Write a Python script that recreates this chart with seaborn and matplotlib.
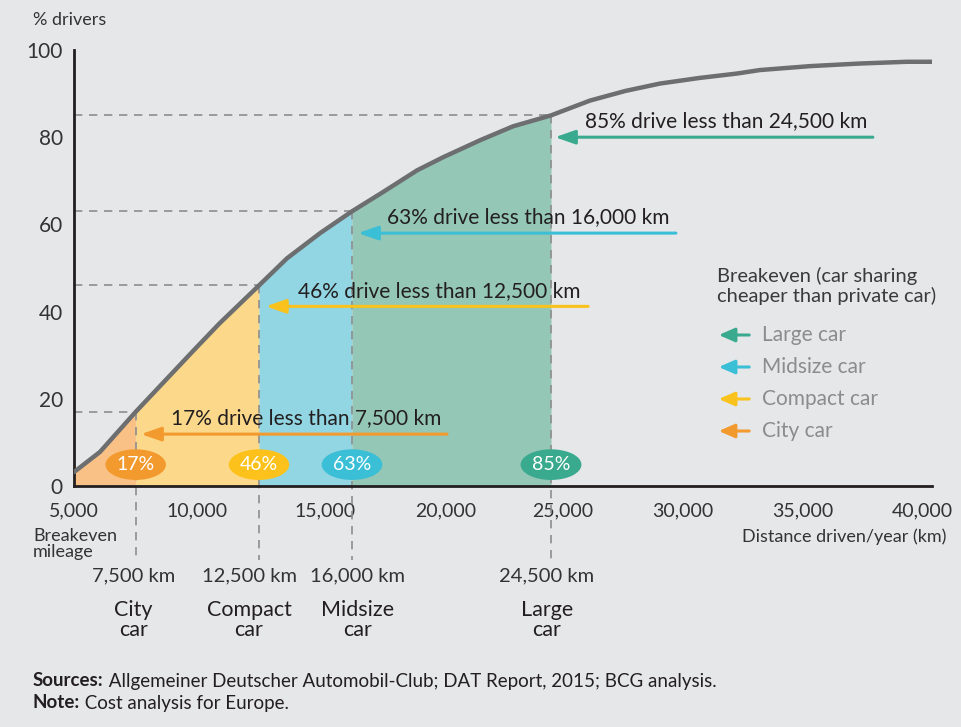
import numpy as np
import matplotlib
matplotlib.use("Agg")
import matplotlib.pyplot as plt
from matplotlib.patches import FancyArrowPatch
import seaborn as sns

sns.set_theme(style="white")
plt.rcParams['font.family'] = ['Lato', 'DejaVu Sans']

# --- data ---
km = [5000, 6050, 7500, 9900, 10900, 12500, 13550, 14800, 16000, 17320, 18780,
      19890, 21470, 22880, 24500, 26130, 27600, 29050, 30720, 32270, 33230, 35320,
      37410, 39370, 40420]
pct = [3.2, 7.8, 17, 31.4, 37.3, 46, 52.2, 58, 63, 67.4, 72.4,
       75.4, 79.3, 82.5, 85, 88.4, 90.6, 92.3, 93.6, 94.6, 95.4, 96.3,
       96.9, 97.3, 97.3]

cars = ['City car', 'Compact car', 'Midsize car', 'Large car']
breakeven_km = [7500, 12500, 16000, 24500]
breakeven_pct = [17, 46, 63, 85]
arrow_col = ['#F39A2E', '#F9C21C', '#3BBFD6', '#3AAA8E']
badge_col = ['#F39A2E', '#FCC21B', '#3BBFD6', '#3AAA8E']
fill_col = ['#F9C185', '#FCD88A', '#92D6E3', '#94C7B5']
arrow_tail = [20060, 26050, 29720, 37950]
arrow_head = [7720, 12760, 16260, 24670]
caption_right = [19800, 25750, 29470, 37740]
arrow_y = [11.9, 41.2, 58, 80]
label_shift = [-2, -10, 6, -4]   # px nudges of the labels under the axis
x_ticks = [5000, 10000, 15000, 20000, 25000, 30000, 35000, 40000]
y_ticks = [0, 20, 40, 60, 80, 100]

# the original drawing stretches the x axis unevenly; follow it piecewise
scale_km = [5000, 12500, 16000, 24500, 40420]
scale_u = [0, 185, 278, 477, 858]


def fwd(v):
    return np.interp(v, scale_km, scale_u)


def inv(v):
    return np.interp(v, scale_u, scale_km)


bg = '#E6E7E9'
dark = '#231F20'
txt = '#333333'
grey_line = '#6D6E70'

fig = plt.figure(figsize=(9.62, 7.27), dpi=100, facecolor=bg)
ax = fig.add_axes([74 / 962, 1 - 486 / 727, (932 - 74) / 962, 436 / 727])
ax.set_facecolor(bg)
ax.set_xscale('function', functions=(fwd, inv))

x = np.array(km)
y = np.array(pct)

# shaded bands under the curve
starts = [5000] + breakeven_km[:-1]
for a, b, c in zip(starts, breakeven_km, fill_col):
    m = (x >= a) & (x <= b)
    ax.fill_between(x[m], 0, y[m], color=c, lw=0, zorder=1)

# dashed guides
for bk, bp in zip(breakeven_km, breakeven_pct):
    ax.plot([5000, bk], [bp, bp], ls=(0, (5, 4)), color='#8D8E90', lw=1.2, zorder=2)
    ax.plot([bk, bk], [bp, -17], ls=(0, (5, 4)), color='#8D8E90', lw=1.2,
            zorder=2, clip_on=False)

sns.lineplot(x=km, y=pct, ax=ax, color=grey_line, lw=3.2, zorder=4)

# arrows with captions
for bk, bp, c, tail, head, tr, ay in zip(breakeven_km, breakeven_pct, arrow_col,
                                          arrow_tail, arrow_head, caption_right, arrow_y):
    ax.annotate('', xy=(head, ay), xytext=(tail, ay),
                arrowprops=dict(arrowstyle='-|>,head_length=1.0,head_width=0.35',
                                color=c, lw=2.2, shrinkA=0, shrinkB=0), zorder=5)
    ax.text(tr, ay + 1.3, f'{bp}% drive less than {bk:,} km',
            ha='right', va='bottom', fontsize=15, color=dark, zorder=6)

# percentage badges
for bk, bp, c in zip(breakeven_km, breakeven_pct, badge_col):
    ax.text(bk, 4.9, f'{bp}%', ha='center', va='center', color='white',
            fontsize=14, zorder=7,
            bbox=dict(boxstyle='ellipse,pad=0.12', fc=c, ec='none'))

ax.set_xlim(5000, 40420)
ax.set_ylim(0, 100)
ax.set_xticks(x_ticks)
ax.set_xticklabels([f'{v:,}' for v in x_ticks])
ax.set_yticks(y_ticks)
ax.minorticks_off()
ax.tick_params(axis='x', length=0, labelsize=14, colors=txt, pad=12)
ax.tick_params(axis='y', length=0, labelsize=15, colors=txt, pad=8)
for s in ['top', 'right']:
    ax.spines[s].set_visible(False)
for s in ['left', 'bottom']:
    ax.spines[s].set_color(dark)
    ax.spines[s].set_linewidth(2)
ax.set_xlabel('')
ax.set_ylabel('')

# legend drawn by hand
fig.text(717 / 962, 1 - 286 / 727, 'Breakeven (car sharing\ncheaper than private car)',
         fontsize=14.5, color='#3A3A3A', va='center', linespacing=1.1)
leg_y = [335, 367, 399, 431]
for name, c, py in zip(cars[::-1], arrow_col[::-1], leg_y):
    yy = 1 - py / 727
    fig.patches.append(FancyArrowPatch(
        (752 / 962, yy), (716 / 962, yy), transform=fig.transFigure,
        arrowstyle='-|>,head_length=0.8,head_width=0.35', color=c, lw=2.2,
        mutation_scale=12))
    fig.text(762 / 962, yy, name, fontsize=15, color='#8A8C8E', va='center')

# texts outside the plot
fig.text(33 / 962, 1 - 20 / 727, '% drivers', fontsize=13, color=txt, va='center')
fig.text(33 / 962, 1 - 544 / 727, 'Breakeven\nmileage', fontsize=13, color=txt,
         va='center', linespacing=0.95)
fig.text(946 / 962, 1 - 537 / 727, 'Distance driven/year (km)', fontsize=13,
         color=txt, va='center', ha='right')
for bk, name, dx in zip(breakeven_km, cars, label_shift):
    px = (ax.transData.transform((bk, 0))[0] + dx) / fig.bbox.width
    fig.text(px, 1 - 576 / 727, f'{bk:,} km', fontsize=14.5, color=txt,
             ha='center', va='center')
    word, rest = name.split(' ')
    fig.text(px, 1 - 620 / 727, f'{word}\n{rest}', fontsize=15.5, color=dark,
             ha='center', va='center', linespacing=1.0)

# footer with bold lead words
renderer = fig.canvas.get_renderer()
for lead, rest, py in [('Sources:', ' Allgemeiner Deutscher Automobil-Club; DAT Report, 2015; BCG analysis.', 681),
                       ('Note:', ' Cost analysis for Europe.', 703)]:
    t = fig.text(33 / 962, 1 - py / 727, lead, fontsize=13.5, fontweight='bold',
                 color=dark, va='center')
    w = t.get_window_extent(renderer).width
    fig.text((33 + w) / 962, 1 - py / 727, rest, fontsize=13.5, color=dark, va='center')

fig.savefig('out.png', dpi=100, facecolor=bg)
